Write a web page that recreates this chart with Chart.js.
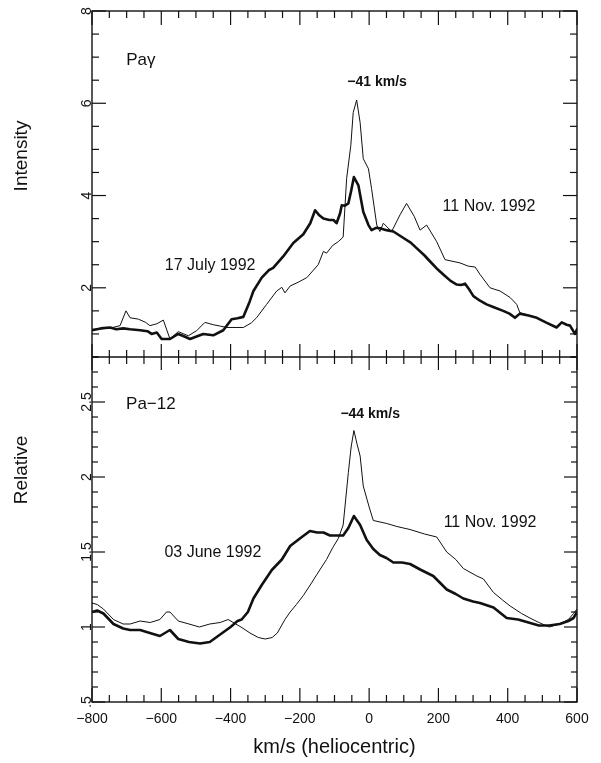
<!DOCTYPE html>
<html><head><meta charset="utf-8">
<script src="https://cdn.jsdelivr.net/npm/chart.js@4/dist/chart.umd.min.js"></script>
<style>html,body{margin:0;padding:0;background:#fff;}canvas{display:block;}</style>
</head><body>
<canvas id="c" width="601" height="763"></canvas>
<script>
// ---- tick labels ----
const xTickValues = [-800, -600, -400, -200, 0, 200, 400, 600];
const topTickValues = [2, 4, 6, 8];
const topTickLabels = ['2', '4', '6', '8'];
const bottomTickValues = [0.5, 1, 1.5, 2, 2.5];
const bottomTickLabels = ['.5', '1', '1.5', '2', '2.5'];

// ---- Pa gamma, 17 July 1992 (thick) ----
const payJulyV = [-800,-775,-748,-730,-710,-690,-661,-640,-628,-613,-599,-575,-551,-535,-517,-500,-479,-450,-421,-397,-380,-363,-345,-334,-310,-290,-277,-248,-219,-190,-170,-156,-145,-132,-115,-103,-94,-84,-79,-70,-60,-52,-44,-31,-17,-2,7,20,31,50,70,99,120,137,160,176,195,214,235,253,265,277,290,301,320,339,360,387,405,421,435,460,484,510,541,556,570,580,594,600];
const payJulyI = [1.08,1.12,1.14,1.10,1.12,1.10,1.08,1.06,1.00,1.03,0.89,0.89,1.00,0.95,0.89,0.94,1.00,0.97,1.08,1.32,1.34,1.37,1.70,1.93,2.22,2.38,2.43,2.68,2.97,3.16,3.40,3.68,3.58,3.50,3.47,3.47,3.40,3.61,3.79,3.78,3.83,4.10,4.40,4.22,3.65,3.36,3.25,3.30,3.29,3.25,3.22,3.08,2.98,2.86,2.70,2.57,2.42,2.29,2.15,2.07,2.06,2.09,1.95,1.82,1.72,1.64,1.58,1.50,1.44,1.35,1.44,1.40,1.35,1.25,1.14,1.25,1.20,1.18,1.00,1.10];

// ---- Pa gamma, 11 Nov. 1992 (thin) ----
const payNovV = [-800,-760,-740,-719,-702,-690,-666,-645,-633,-613,-594,-575,-551,-522,-498,-474,-450,-430,-411,-363,-340,-325,-296,-267,-252,-243,-228,-205,-180,-147,-132,-123,-105,-89,-75,-65,-53,-46,-36,-26,-17,-2,7,22,31,41,65,89,108,130,147,166,195,219,262,286,306,320,349,378,407,426,435,484,510,541,556,580,594,600];
const payNovI = [1.10,1.12,1.14,1.18,1.50,1.35,1.32,1.25,1.18,1.22,1.30,0.89,1.05,0.96,1.07,1.25,1.20,1.17,1.14,1.14,1.24,1.35,1.64,1.93,2.01,1.89,2.04,2.12,2.22,2.50,2.79,2.75,2.92,3.00,3.10,4.37,5.08,5.80,6.07,5.58,4.80,4.58,4.15,3.36,3.22,3.40,3.22,3.58,3.83,3.55,3.25,3.36,3.00,2.61,2.54,2.47,2.45,2.29,2.00,1.93,1.79,1.64,1.46,1.35,1.25,1.14,1.25,1.18,1.00,1.05];

// ---- Pa-12, 03 June 1992 (thick) ----
const pa12JuneV = [-800,-785,-767,-738,-710,-690,-661,-633,-604,-575,-551,-520,-488,-460,-430,-400,-380,-368,-350,-334,-310,-281,-252,-228,-200,-171,-150,-132,-113,-89,-75,-60,-44,-26,-7,12,31,50,70,95,118,150,185,224,250,272,300,320,359,397,430,460,490,520,550,575,590,600];
const pa12JuneI = [1.10,1.11,1.09,1.02,0.99,0.98,0.98,0.96,0.94,0.98,0.92,0.90,0.89,0.90,0.95,1.00,1.04,1.05,1.10,1.19,1.28,1.38,1.45,1.54,1.59,1.64,1.63,1.63,1.61,1.61,1.61,1.66,1.74,1.68,1.58,1.52,1.48,1.46,1.43,1.43,1.42,1.38,1.34,1.25,1.22,1.19,1.17,1.16,1.13,1.06,1.05,1.03,1.01,1.01,1.02,1.04,1.06,1.10];

// ---- Pa-12, 11 Nov. 1992 (thin) ----
const pa12NovV = [-800,-785,-767,-738,-710,-690,-661,-632,-604,-585,-575,-551,-520,-490,-460,-430,-407,-385,-370,-344,-320,-300,-280,-265,-243,-228,-210,-190,-170,-151,-123,-105,-89,-75,-60,-52,-44,-35,-26,-17,0,12,51,80,118,160,195,224,250,272,311,330,359,385,407,440,464,490,520,550,575,590,600];
const pa12NovI = [1.16,1.15,1.12,1.05,1.02,1.02,1.04,1.03,1.05,1.10,1.10,1.04,1.02,1.00,1.02,1.03,1.05,1.02,1.00,0.96,0.93,0.92,0.93,0.96,1.05,1.10,1.15,1.21,1.28,1.35,1.45,1.53,1.59,1.68,2.03,2.20,2.31,2.22,2.14,1.94,1.80,1.71,1.69,1.67,1.65,1.62,1.60,1.50,1.45,1.39,1.34,1.32,1.23,1.18,1.14,1.09,1.06,1.03,1.00,1.02,1.05,1.09,1.12];

const pts = (vs, ys) => vs.map((v, i) => ({x: v, y: ys[i]}));
const FONT = '"Liberation Sans", Arial, Helvetica, sans-serif';
const INK = '#111';

function lineDs(label, vs, ys, axis, w) {
  return {label, data: pts(vs, ys), yAxisID: axis, borderColor: INK, borderWidth: w,
          pointRadius: 0, tension: 0, fill: false, borderJoinStyle: 'round', borderCapStyle: 'round'};
}

const notes = [
  {t: 'Paγ', x: -659, y: 6.94, ax: 'yTop', f: '17px ' + FONT},
  {t: '−41 km/s', x: 23, y: 6.46, ax: 'yTop', f: 'bold 14px ' + FONT},
  {t: '11 Nov. 1992', x: 346, y: 3.77, ax: 'yTop', f: '16px ' + FONT},
  {t: '17 July 1992', x: -459, y: 2.49, ax: 'yTop', f: '16px ' + FONT},
  {t: 'Pa−12', x: -630, y: 2.487, ax: 'yBot', f: '17px ' + FONT},
  {t: '−44 km/s', x: 3, y: 2.42, ax: 'yBot', f: 'bold 14px ' + FONT},
  {t: '11 Nov. 1992', x: 349, y: 1.693, ax: 'yBot', f: '16px ' + FONT},
  {t: '03 June 1992', x: -451, y: 1.493, ax: 'yBot', f: '16px ' + FONT}
];

const framePlugin = {
  id: 'frame',
  beforeDatasetsDraw(chart) {
    const {ctx, chartArea: a, scales} = chart;
    const x = scales.x, yT = scales.yTop, yB = scales.yBot;
    const mid = yT.bottom;
    ctx.save();
    ctx.strokeStyle = INK;
    ctx.lineWidth = 1.4;
    ctx.strokeRect(a.left, a.top, a.right - a.left, a.bottom - a.top);
    ctx.beginPath(); ctx.moveTo(a.left, mid); ctx.lineTo(a.right, mid); ctx.stroke();
    ctx.lineWidth = 1.2;
    const seg = (x1, y1, x2, y2) => { ctx.beginPath(); ctx.moveTo(x1, y1); ctx.lineTo(x2, y2); ctx.stroke(); };
    // x ticks
    for (let v = -800; v <= 600; v += 50) {
      const px = x.getPixelForValue(v);
      const major = v % 200 === 0;
      const L = major ? 14 : 7;
      seg(px, a.top, px, a.top + L);
      seg(px, mid - (major ? 13 : 7), px, mid + (major ? 13 : 7));
      seg(px, a.bottom, px, a.bottom - L);
    }
    // top panel y ticks
    for (let k = 1; k <= 16; k++) {
      const v = k * 0.5;
      const py = yT.getPixelForValue(v);
      const L = (v % 2 === 0) ? 14 : 7;
      seg(a.left, py, a.left + L, py);
      seg(a.right, py, a.right - L, py);
    }
    // bottom panel y ticks
    for (let k = 5; k <= 28; k++) {
      const v = k / 10;
      const py = yB.getPixelForValue(v);
      const L = (k % 5 === 0) ? 13 : 6;
      seg(a.left, py, a.left + L, py);
      seg(a.right, py, a.right - L, py);
    }
    ctx.restore();
  },
  afterDraw(chart) {
    const {ctx, chartArea: a, scales} = chart;
    const x = scales.x;
    ctx.save();
    ctx.fillStyle = INK;
    // rotated y tick labels
    ctx.font = '14px ' + FONT;
    ctx.textAlign = 'center';
    ctx.textBaseline = 'alphabetic';
    const rot = (txt, px, py) => { ctx.save(); ctx.translate(px, py); ctx.rotate(-Math.PI / 2); ctx.fillText(txt, 0, 0); ctx.restore(); };
    topTickValues.forEach((v, i) => rot(topTickLabels[i], a.left - 1, scales.yTop.getPixelForValue(v)));
    bottomTickValues.forEach((v, i) => rot(bottomTickLabels[i], a.left - 1, scales.yBot.getPixelForValue(v)));
    // axis side titles
    ctx.font = '19px ' + FONT;
    ctx.textBaseline = 'middle';
    rot('Intensity', 22, 156);
    rot('Relative', 22, 470);
    // annotations
    notes.forEach(n => {
      ctx.font = n.f;
      ctx.textAlign = 'center';
      ctx.textBaseline = 'middle';
      ctx.fillText(n.t, x.getPixelForValue(n.x), scales[n.ax].getPixelForValue(n.y));
    });
    ctx.restore();
  }
};

new Chart(document.getElementById('c'), {
  type: 'line',
  data: {
    datasets: [
      lineDs('Paγ 17 July 1992', payJulyV, payJulyI, 'yTop', 2.6),
      lineDs('Paγ 11 Nov. 1992', payNovV, payNovI, 'yTop', 1.0),
      lineDs('Pa-12 03 June 1992', pa12JuneV, pa12JuneI, 'yBot', 2.6),
      lineDs('Pa-12 11 Nov. 1992', pa12NovV, pa12NovI, 'yBot', 1.0)
    ]
  },
  options: {
    responsive: false,
    devicePixelRatio: 1,
    animation: false,
    events: [],
    layout: {padding: {top: 11, right: 24, bottom: 0, left: 0}},
    plugins: {legend: {display: false}, tooltip: {enabled: false}, title: {display: false}},
    scales: {
      x: {
        type: 'linear', min: -800, max: 600,
        grid: {display: false, drawTicks: false},
        border: {display: false},
        afterBuildTicks: s => { s.ticks = xTickValues.map(v => ({value: v})); },
        afterFit: s => { s.height = 61; },
        ticks: {color: INK, padding: 9, maxRotation: 0, font: {family: FONT, size: 14},
                callback: v => (v < 0 ? '−' + Math.abs(v) : String(v))},
        title: {display: true, text: 'km/s (heliocentric)', color: INK,
                font: {family: FONT, size: 20}, padding: {top: 0, bottom: 4}}
      },
      yBot: {
        type: 'linear', position: 'left', stack: 'panels', stackWeight: 345,
        min: 0.5, max: 2.8,
        grid: {display: false, drawTicks: false}, border: {display: false},
        ticks: {display: false},
        afterFit: s => { s.width = 92; }
      },
      yTop: {
        type: 'linear', position: 'left', stack: 'panels', stackWeight: 346,
        min: 0.5, max: 8,
        grid: {display: false, drawTicks: false}, border: {display: false},
        ticks: {display: false},
        afterFit: s => { s.width = 92; }
      }
    }
  },
  plugins: [framePlugin]
});
</script>
</body></html>
